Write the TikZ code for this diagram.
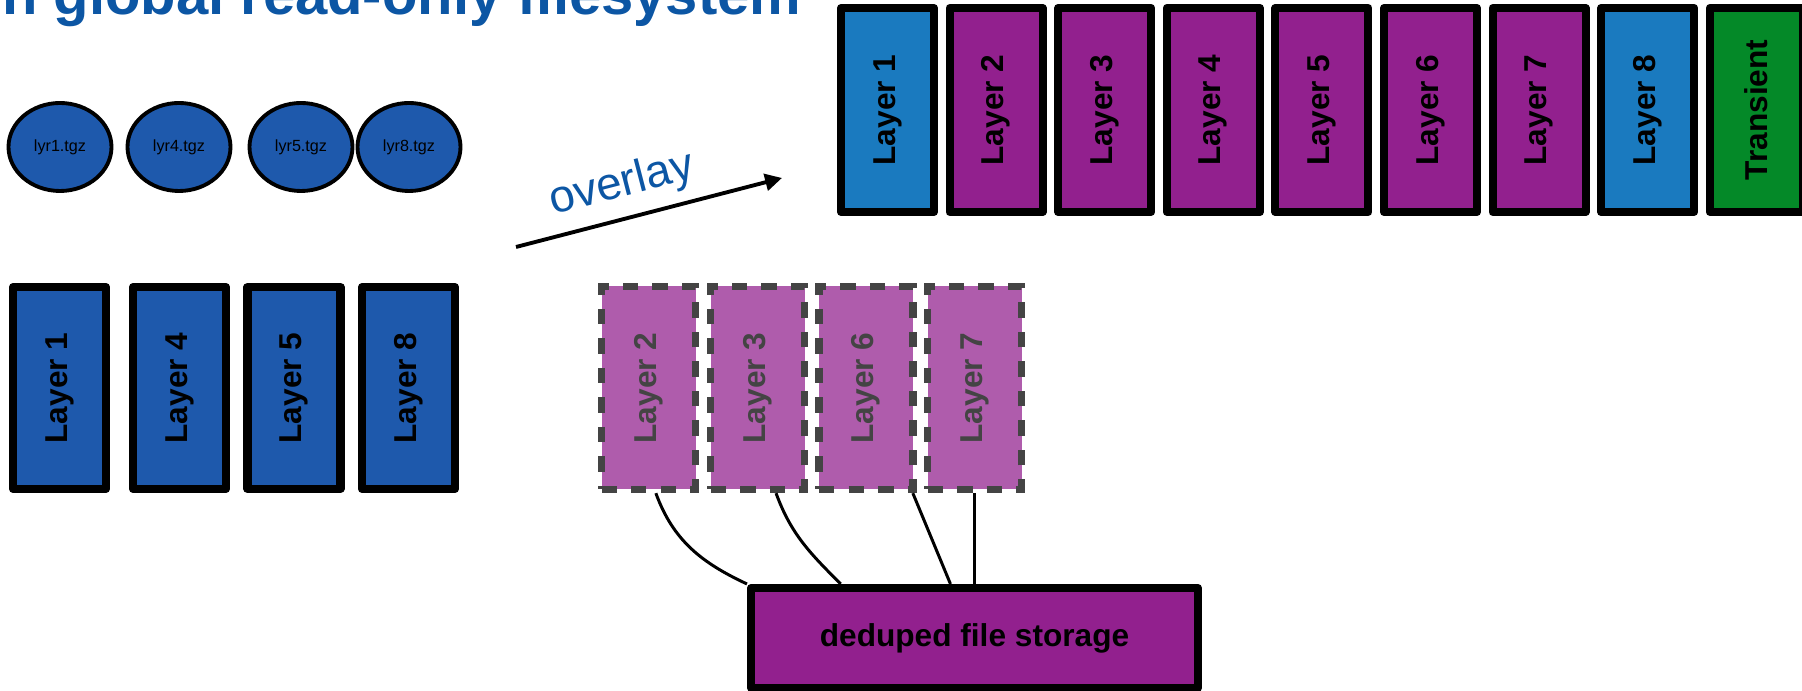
\documentclass[tikz,border=0pt]{standalone}
\usepackage{fontspec}
\setmainfont{Liberation Sans}
\usepackage{graphicx}
\usetikzlibrary{shapes.geometric,arrows.meta}

\definecolor{titleblue}{RGB}{12,86,164}
\definecolor{tgzblue}{RGB}{30,89,172}
\definecolor{lyrblue}{RGB}{26,122,191}
\definecolor{lyrpurple}{RGB}{146,32,142}
\definecolor{lyrgreen}{RGB}{4,137,40}
\definecolor{dedupfill}{RGB}{175,92,172}
\definecolor{dashgrey}{RGB}{68,68,68}

\newcommand{\lyrtext}[1]{\rotatebox{90}{\fontsize{9pt}{10pt}\selectfont\bfseries #1}}

\begin{document}
\begin{tikzpicture}

        \useasboundingbox (0,0) rectangle (18.02,-6.91);
        \clip (0,0) rectangle (18.02,-6.91);

        \node[anchor=base east, inner sep=0, text=titleblue,
              font=\fontsize{16.5pt}{18pt}\selectfont\bfseries] (title) at (8.02,-0.15) {n global read-only filesystem};

        \begin{scope}[every node/.style={ellipse, draw, line width=1.1pt, fill=tgzblue, inner sep=0,
                      minimum width=1.03cm, minimum height=0.88cm, font=\fontsize{4.6pt}{5pt}\selectfont}]
          \node (z1) at (0.60,-1.47) {lyr1.tgz};
          \node (z4) at (1.79,-1.47) {lyr4.tgz};
          \node (z5) at (3.01,-1.47) {lyr5.tgz};
          \node (z8) at (4.09,-1.47) {lyr8.tgz};
        \end{scope}

        \begin{scope}[every node/.style={rectangle, draw, line width=2.3pt, line join=round, inner sep=0,
                      minimum width=0.93cm, minimum height=2.02cm}]
          \node[fill=tgzblue] (l1) at (0.595,-3.88) {\lyrtext{Layer 1}};
          \node[fill=tgzblue] (l4) at (1.795,-3.88) {\lyrtext{Layer 4}};
          \node[fill=tgzblue] (l5) at (2.94,-3.88)  {\lyrtext{Layer 5}};
          \node[fill=tgzblue] (l8) at (4.085,-3.88) {\lyrtext{Layer 8}};
        \end{scope}

        \begin{scope}[every node/.style={rectangle, draw, line width=2.3pt, line join=round, inner sep=0,
                      minimum width=0.93cm, minimum height=2.04cm}]
          \node[fill=lyrblue]   (t1) at (8.875,-1.10)  {\lyrtext{Layer 1}};
          \node[fill=lyrpurple] (t2) at (9.961,-1.10)  {\lyrtext{Layer 2}};
          \node[fill=lyrpurple] (t3) at (11.047,-1.10) {\lyrtext{Layer 3}};
          \node[fill=lyrpurple] (t4) at (12.133,-1.10) {\lyrtext{Layer 4}};
          \node[fill=lyrpurple] (t5) at (13.219,-1.10) {\lyrtext{Layer 5}};
          \node[fill=lyrpurple] (t6) at (14.305,-1.10) {\lyrtext{Layer 6}};
          \node[fill=lyrpurple] (t7) at (15.391,-1.10) {\lyrtext{Layer 7}};
          \node[fill=lyrblue]   (t8) at (16.477,-1.10) {\lyrtext{Layer 8}};
          \node[fill=lyrgreen]  (t9) at (17.563,-1.10) {\lyrtext{Transient}};
          \node[fill=lyrpurple, minimum width=4.47cm, minimum height=1.00cm,
                font=\fontsize{9pt}{10pt}\selectfont\bfseries] (store) at (9.745,-6.38) {deduped file storage};
        \end{scope}

        \begin{scope}[every node/.style={rectangle, draw=dashgrey, line width=2.1pt, dash pattern=on 4.4pt off 4pt,
                      fill=dedupfill, text=dashgrey, inner sep=0, minimum width=0.94cm, minimum height=2.03cm}]
          \node (d2) at (6.485,-3.88) {\lyrtext{Layer 2}};
          \node (d3) at (7.575,-3.88) {\lyrtext{Layer 3}};
          \node (d6) at (8.66,-3.88)  {\lyrtext{Layer 6}};
          \node (d7) at (9.745,-3.88) {\lyrtext{Layer 7}};
        \end{scope}

        \begin{scope}[every edge/.style={draw, line width=0.85pt}]
          \path (d2.-86)   edge[out=-70, in=155] (store.north west);
          \path (d3.-80)   edge[out=-70, in=135] (store.158);
          \path (d6.-66)   edge (store.114);
          \path (d7.south) edge (store.north);
        \end{scope}

        \coordinate (ovs) at (5.16,-2.47);
        \coordinate (ove) at (7.82,-1.78);
        \draw[line width=1.1pt, -{Triangle[length=4.8pt, width=4.8pt]}] (ovs) -- node[sloped, above, pos=0.43, inner sep=3pt,
              text=titleblue, font=\fontsize{13pt}{15pt}\selectfont] (ovl) {overlay} (ove);

      \end{tikzpicture}
\end{document}
